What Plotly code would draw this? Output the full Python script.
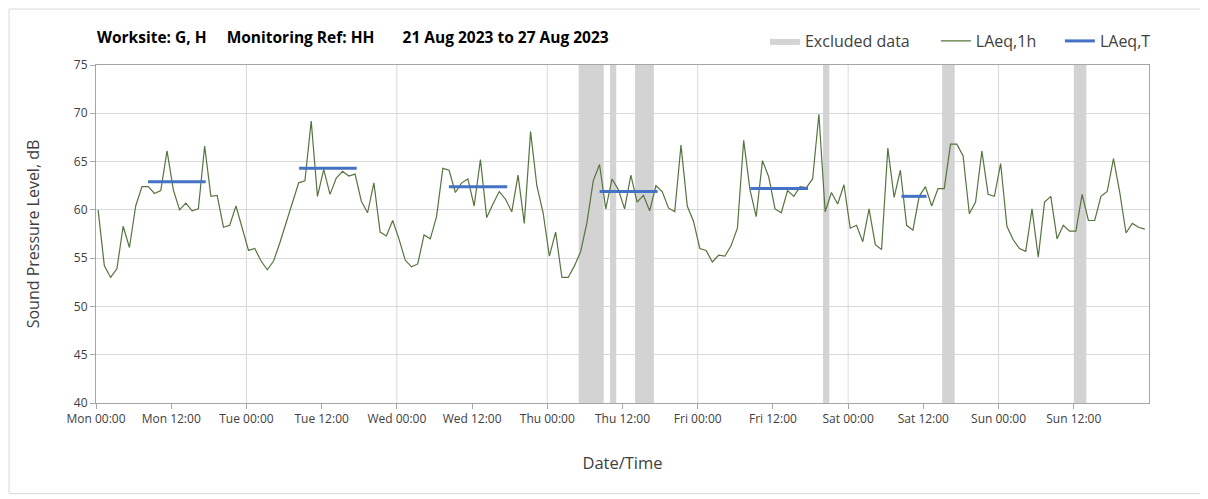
import pandas as pd
import plotly.graph_objects as go

# ---- data ----
start = pd.Timestamp("2023-08-21 00:00")
laeq_1h = [
    60.0, 54.2, 53.0, 53.9, 58.3, 56.1, 60.4, 62.4, 62.4, 61.7, 62.0, 66.1,
    62.1, 60.0, 60.7, 59.9, 60.1, 66.6, 61.4, 61.5, 58.2, 58.4, 60.4, 58.0,
    55.8, 56.0, 54.7, 53.8, 54.7, 56.6, 58.7, 60.8, 62.8, 63.0, 69.2, 61.4,
    64.2, 61.6, 63.3, 64.0, 63.5, 63.7, 60.9, 59.7, 62.8, 57.7, 57.3, 58.9,
    57.0, 54.8, 54.1, 54.4, 57.4, 57.0, 59.3, 64.3, 64.1, 61.8, 62.8, 63.2,
    60.4, 65.2, 59.2, 60.6, 61.9, 61.1, 59.8, 63.6, 58.6, 68.1, 62.5, 59.7,
    55.2, 57.7, 53.0, 53.0, 54.2, 55.7, 58.7, 63.0, 64.7, 60.1, 63.2, 62.1,
    60.1, 63.6, 60.8, 61.5, 59.9, 62.5, 61.9, 60.2, 59.8, 66.7, 60.4, 58.8,
    56.0, 55.8, 54.6, 55.3, 55.2, 56.3, 58.1, 67.2, 62.1, 59.3, 65.1, 63.4,
    60.1, 59.7, 62.0, 61.4, 62.4, 62.3, 63.2, 69.9, 59.8, 61.8, 60.6, 62.6,
    58.1, 58.4, 56.7, 60.1, 56.4, 55.9, 66.4, 61.3, 64.1, 58.4, 57.9, 61.4,
    62.4, 60.4, 62.2, 62.2, 66.8, 66.8, 65.6, 59.6, 60.8, 66.1, 61.6, 61.4,
    64.8, 58.3, 56.9, 56.0, 55.7, 60.1, 55.1, 60.8, 61.4, 57.0, 58.4, 57.8,
    57.8, 61.6, 58.9, 58.9, 61.4, 61.9, 65.3, 61.8, 57.6, 58.6, 58.2, 58.0,
]
# LAeq,T periods (hours from Mon 00:00) and levels
laeq_t_start = [8.3, 32.4, 56.3, 80.35, 104.4, 128.5]
laeq_t_end = [17.5, 41.6, 65.6, 89.6, 113.6, 132.5]
laeq_t_value = [62.9, 64.3, 62.4, 61.9, 62.2, 61.4]
# Excluded data periods (hours from Mon 00:00)
excl_start = [77, 82, 86, 116, 135, 156]
excl_end = [81, 83, 89, 117, 137, 158]

y_ticks = [40, 45, 50, 55, 60, 65, 70, 75]

# ---- build ----
data_offset = pd.Timedelta(minutes=20)
x_1h = [start + pd.Timedelta(hours=i) + data_offset for i in range(len(laeq_1h))]

def hrs(h):
    return start + pd.Timedelta(hours=h)

ex_x, ex_y = [], []
for s, e in zip(excl_start, excl_end):
    ex_x += [hrs(s), hrs(e), hrs(e), hrs(s), hrs(s), None]
    ex_y += [40, 40, 75, 75, 40, None]

t_x, t_y = [], []
for s, e, v in zip(laeq_t_start, laeq_t_end, laeq_t_value):
    t_x += [hrs(s), hrs(e), None]
    t_y += [v, v, None]

GREEN = "#56743f"
BLUE = "#4472c4"
GREY = "#d3d3d3"
FONT = "Open Sans"
TXT = "#404040"

fig = go.Figure()
fig.add_trace(go.Scatter(x=ex_x, y=ex_y, fill="toself", fillcolor=GREY,
                         line=dict(width=0, color=GREY), mode="lines",
                         name="Excluded data", hoverinfo="skip", legend="legend"))
fig.add_trace(go.Scatter(x=x_1h, y=laeq_1h, mode="lines", name="LAeq,1h",
                         line=dict(color=GREEN, width=1.2), legend="legend2"))
fig.add_trace(go.Scatter(x=t_x, y=t_y, mode="lines", name="LAeq,T",
                         line=dict(color=BLUE, width=3), legend="legend3"))

leg_common = dict(orientation="h", xanchor="left", y=1.071, yanchor="middle",
                  font=dict(size=16, color=TXT), bgcolor="rgba(0,0,0,0)", itemwidth=30)

tickvals = [start + pd.Timedelta(hours=12 * i) for i in range(14)]
fig.update_layout(
    width=1208, height=499,
    margin=dict(l=88, r=67, t=57, b=104),
    paper_bgcolor="white", plot_bgcolor="white",
    font=dict(family=FONT, color=TXT),
    showlegend=True,
    legend=dict(x=0.6353, **leg_common),
    legend2=dict(x=0.7976, **leg_common),
    legend3=dict(x=0.9154, **leg_common),
    xaxis=dict(
        type="date",
        range=[start, start + pd.Timedelta(days=7)],
        tickmode="array", tickvals=tickvals, tickformat="%a %H:%M",
        ticks="outside", ticklen=5, tickcolor="#a6a6a6",
        tickfont=dict(size=12, color=TXT),
        showgrid=False,
        showline=True, linecolor="#a6a6a6", linewidth=1, mirror=True,
        title=dict(text="Date/Time", font=dict(size=16.5, color=TXT), standoff=31),
        zeroline=False,
    ),
    yaxis=dict(
        range=[40, 75], tickmode="array", tickvals=y_ticks,
        ticks="outside", ticklen=5, tickcolor="#a6a6a6",
        tickfont=dict(size=12, color=TXT),
        showgrid=True, gridcolor="#d9d9d9", gridwidth=1,
        showline=True, linecolor="#a6a6a6", linewidth=1, mirror=True,
        title=dict(text="Sound Pressure Level, dB", font=dict(size=16, color=TXT), standoff=30),
        zeroline=False,
    ),
)

# daily vertical gridlines
for d in range(1, 7):
    fig.add_shape(type="line", xref="x", yref="paper", x0=hrs(24 * d), x1=hrs(24 * d),
                  y0=0, y1=1, line=dict(color="#d9d9d9", width=1), layer="below")

# outer chart border
fig.add_shape(type="rect", xref="paper", yref="paper", x0=-0.0826, x1=1.0502,
              y0=-0.268, y1=1.1655, line=dict(color="#d9d9d9", width=1), layer="below")

fig.add_annotation(xref="paper", yref="paper", x=-0.001, y=1.0828, xanchor="left", yanchor="middle",
                   text="<b>Worksite: G, H&nbsp;&nbsp;&nbsp;&nbsp; Monitoring Ref: HH&nbsp;&nbsp;&nbsp;&nbsp;&nbsp;&nbsp; 21 Aug 2023 to 27 Aug 2023</b>",
                   showarrow=False, font=dict(size=15.5, color="#000000", family=FONT))

fig.write_html("out.html")
